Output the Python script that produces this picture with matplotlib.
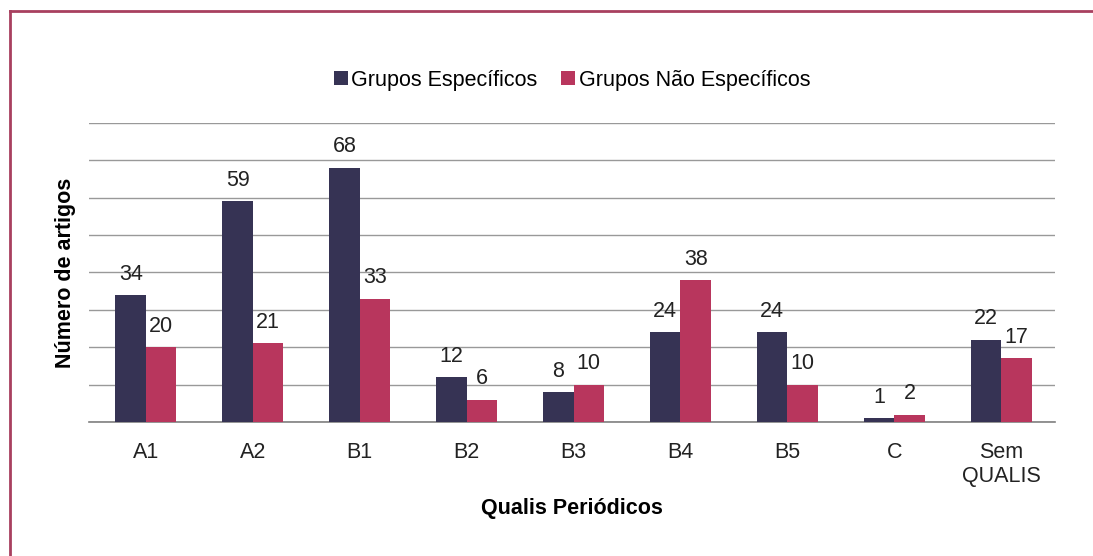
import matplotlib.pyplot as plt
import numpy as np
from matplotlib.lines import Line2D

plt.rcParams['font.family'] = ['Liberation Sans', 'DejaVu Sans']

categorias = ['A1', 'A2', 'B1', 'B2', 'B3', 'B4', 'B5', 'C', 'Sem\nQUALIS']
especificos = [34, 59, 68, 12, 8, 24, 24, 1, 22]
nao_especificos = [20, 21, 33, 6, 10, 38, 10, 2, 17]

cor_esp = '#363354'
cor_nao = '#b8365d'
cor_borda = '#a8405f'
fs = 15.5

fig = plt.figure(figsize=(10.93, 5.56), dpi=100)
ax = fig.add_axes([0.0814, 0.241, 0.884, 0.538])

x = np.arange(len(categorias))
w = 0.285
b1 = ax.bar(x - w / 2, especificos, w, color=cor_esp, label='Grupos Específicos', zorder=3)
b2 = ax.bar(x + w / 2, nao_especificos, w, color=cor_nao, label='Grupos Não Específicos', zorder=3)

# rótulos de valor acima das barras
for bars in (b1, b2):
    for rect in bars:
        h = rect.get_height()
        ax.annotate(f'{int(h)}', (rect.get_x() + rect.get_width() / 2, h),
                    xytext=(0, 11), textcoords='offset points',
                    ha='center', va='baseline', fontsize=fs, color='#222222')

ax.set_xlim(-0.533, len(categorias) - 0.495)
ax.set_ylim(0, 80)
ax.set_yticks(range(0, 81, 10))
ax.yaxis.grid(True, color='#999999', linewidth=1.0, zorder=0)
ax.tick_params(axis='y', left=False, labelleft=False)
ax.tick_params(axis='x', bottom=False, labelsize=fs, pad=11, colors='#222222')
ax.set_xticks(x)
ax.set_xticklabels(categorias)
for s in ('top', 'right', 'left'):
    ax.spines[s].set_visible(False)
ax.spines['bottom'].set_color('#808080')
ax.spines['bottom'].set_linewidth(1.2)

ax.set_ylabel('Número de artigos', fontsize=fs, fontweight='bold', labelpad=9)
ax.set_xlabel('Qualis Periódicos', fontsize=fs, fontweight='bold', labelpad=8)

ax.legend(loc='center', bbox_to_anchor=(0.5, 1.143), ncol=2, frameon=False,
          fontsize=fs, handlelength=0.65, handleheight=0.65, handletextpad=0.15,
          columnspacing=1.1)

# moldura (esquerda e topo)
fig.add_artist(Line2D([10 / 1093, 10 / 1093], [0, 1 - 11 / 556],
                      color=cor_borda, linewidth=2))
fig.add_artist(Line2D([10 / 1093, 1], [1 - 11 / 556, 1 - 11 / 556],
                      color=cor_borda, linewidth=2))

fig.savefig('out.png', dpi=100)
